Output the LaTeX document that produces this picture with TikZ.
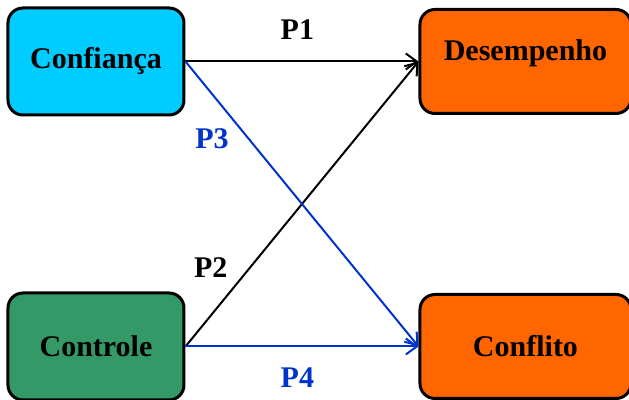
\documentclass[tikz,border=0pt]{standalone}
\usepackage{fontspec}
\setmainfont{Liberation Serif}
\usetikzlibrary{arrows.meta,positioning}
\tikzset{>/.tip={Straight Barb[length=5.5pt,width=8pt,line width=1pt]}}
\definecolor{trustcol}{HTML}{00CCFF}
\definecolor{ctrlcol}{HTML}{339966}
\definecolor{outcol}{HTML}{FF6600}
\definecolor{alert}{HTML}{0033CC}
\tikzset{var/.style={draw,line width=1.5pt,rounded corners=7.5pt,minimum width=88pt,minimum height=53.5pt,font=\fontsize{15}{18}\selectfont\bfseries}}
\tikzset{result/.style={var,fill=outcol,minimum width=105.5pt,minimum height=52pt}}

\begin{document}
\begin{tikzpicture}[x=0.5pt,y=-0.5pt,node distance=87.5pt and 116.5pt]
        \useasboundingbox (0,0) rectangle (629,400);
        \node(trust)[var,fill=trustcol] at (96,61.5){Confiança};
        \node(perf)[result,right=of trust,text depth=11pt]{Desempenho};
        \node(ctrl)[var,fill=ctrlcol,below=of trust]{Controle};
        \node(confl)[result,right=of ctrl]{Conflito};
        \path[line width=1pt,font=\fontsize{15}{18}\selectfont\bfseries,every edge/.style={draw,->}]
        (trust.east) edge node[pos=0.48,above=7pt]{P1} (perf.west)
        (ctrl.east) edge node[pos=0.277,left=7.5pt]{P2} (perf.west);
        \path[alert,line width=1pt,font=\fontsize{15}{18}\selectfont\bfseries,every edge/.style={draw,->}]
        (trust.east) edge node[pos=0.27,left=6pt]{P3} (confl.west)
        (ctrl.east) edge node[pos=0.48,below=7pt]{P4} (confl.west);
      \end{tikzpicture}
\end{document}
